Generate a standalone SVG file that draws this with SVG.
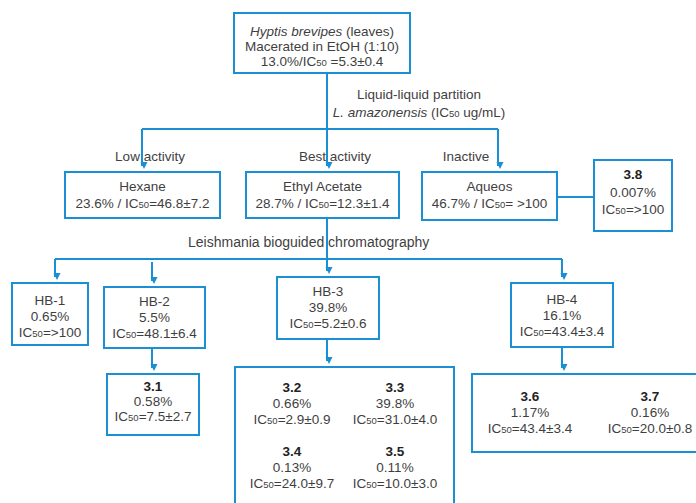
<svg xmlns="http://www.w3.org/2000/svg" width="696" height="503" viewBox="0 0 696 503">
<defs>
<marker id="ah" markerWidth="8" markerHeight="8" refX="4" refY="6" orient="auto-start-reverse" markerUnits="userSpaceOnUse" viewBox="0 0 8 8">
<path d="M0.5,0 L7.5,0 L4,7 Z" fill="#1a8fd3" transform="rotate(-90 4 4)"/>
</marker>
<style>
.box{fill:#fff;stroke:#1a8fd3;stroke-width:2}
.ln{fill:none;stroke:#1a8fd3;stroke-width:2}
text{font-family:"Liberation Sans",Arial,Helvetica,sans-serif;font-size:13.5px;fill:#3f3f3f;text-anchor:middle}
.b{font-weight:bold;fill:#222}
.s{font-size:9.5px}
.l{text-anchor:start;font-size:14px}
</style>
</defs>
<rect width="696" height="503" fill="#fff"/>
<g id="connectors">
<path class="ln" d="M327,73 V129 M142,129 H498"/>
<path class="ln" d="M142,129 V166" marker-end="url(#ah)"/>
<path class="ln" d="M327,129 V166" marker-end="url(#ah)"/>
<path class="ln" d="M498,129 V166" marker-end="url(#ah)"/>
<path class="ln" d="M557,197 H594"/>
<path class="ln" d="M327,218 V271" marker-end="url(#ah)"/>
<path class="ln" d="M55,259 H562"/>
<path class="ln" d="M55,259 V277" marker-end="url(#ah)"/>
<path class="ln" d="M152,262 V281" marker-end="url(#ah)"/>
<path class="ln" d="M562,259 V277" marker-end="url(#ah)"/>
<path class="ln" d="M152,348 V368" marker-end="url(#ah)"/>
<path class="ln" d="M327,339 V361" marker-end="url(#ah)"/>
<path class="ln" d="M562,347 V368" marker-end="url(#ah)"/>
</g>
<g id="labels">
<text x="419" y="99">Liquid-liquid partition</text>
<text x="419" y="117"><tspan font-style="italic">L. amazonensis</tspan> (IC<tspan class="s">50</tspan> ug/mL)</text>
<text x="150" y="161">Low activity</text>
<text x="335" y="161">Best activity</text>
<text x="466" y="161">Inactive</text>
<text class="l" x="188" y="247">Leishmania bioguided chromatography</text>
</g>
<g id="extract">
<rect class="box" x="234" y="13" width="176" height="60"/>
<text x="322" y="36"><tspan font-style="italic">Hyptis brevipes</tspan> (leaves)</text>
<text x="322" y="51">Macerated in EtOH (1:10)</text>
<text x="322" y="66">13.0%/IC<tspan class="s">50</tspan> =5.3±0.4</text>
</g>
<g id="hexane">
<rect class="box" x="65" y="172" width="155" height="46"/>
<text x="142.5" y="191">Hexane</text>
<text x="142.5" y="208">23.6% / IC<tspan class="s">50</tspan>=46.8±7.2</text>
</g>
<g id="ethyl">
<rect class="box" x="246" y="172" width="153" height="46"/>
<text x="322.5" y="191">Ethyl Acetate</text>
<text x="322.5" y="208">28.7% / IC<tspan class="s">50</tspan>=12.3±1.4</text>
</g>
<g id="aqueos">
<rect class="box" x="422" y="172" width="135" height="48"/>
<text x="489.5" y="191">Aqueos</text>
<text x="489.5" y="208">46.7% / IC<tspan class="s">50</tspan>= &gt;100</text>
</g>
<g id="f38">
<rect class="box" x="594" y="160" width="78" height="71"/>
<text class="b" x="633" y="179">3.8</text>
<text x="633" y="197">0.007%</text>
<text x="633" y="214">IC<tspan class="s">50</tspan>=&gt;100</text>
</g>
<g id="hb1">
<rect class="box" x="12" y="283" width="76" height="62"/>
<text x="50" y="305">HB-1</text>
<text x="50" y="321">0.65%</text>
<text x="50" y="337">IC<tspan class="s">50</tspan>=&gt;100</text>
</g>
<g id="hb2">
<rect class="box" x="104" y="287" width="101" height="61"/>
<text x="154.5" y="306">HB-2</text>
<text x="154.5" y="322">5.5%</text>
<text x="154.5" y="338">IC<tspan class="s">50</tspan>=48.1±6.4</text>
</g>
<g id="hb3">
<rect class="box" x="277" y="277" width="102" height="62"/>
<text x="328" y="296">HB-3</text>
<text x="328" y="312">39.8%</text>
<text x="328" y="328">IC<tspan class="s">50</tspan>=5.2±0.6</text>
</g>
<g id="hb4">
<rect class="box" x="511" y="283" width="102" height="64"/>
<text x="562" y="304">HB-4</text>
<text x="562" y="320">16.1%</text>
<text x="562" y="336">IC<tspan class="s">50</tspan>=43.4±3.4</text>
</g>
<g id="f31">
<rect class="box" x="107" y="374" width="92" height="61"/>
<text class="b" x="153" y="391">3.1</text>
<text x="153" y="406">0.58%</text>
<text x="153" y="421">IC<tspan class="s">50</tspan>=7.5±2.7</text>
</g>
<g id="f32-35">
<rect class="box" x="235" y="367" width="219" height="145"/>
<text class="b" x="292" y="392">3.2</text>
<text x="292" y="408">0.66%</text>
<text x="292" y="424">IC<tspan class="s">50</tspan>=2.9±0.9</text>
<text class="b" x="395" y="392">3.3</text>
<text x="395" y="408">39.8%</text>
<text x="395" y="424">IC<tspan class="s">50</tspan>=31.0±4.0</text>
<text class="b" x="292" y="456">3.4</text>
<text x="292" y="472">0.13%</text>
<text x="292" y="488">IC<tspan class="s">50</tspan>=24.0±9.7</text>
<text class="b" x="395" y="456">3.5</text>
<text x="395" y="472">0.11%</text>
<text x="395" y="488">IC<tspan class="s">50</tspan>=10.0±3.0</text>
</g>
<g id="f36-37">
<rect class="box" x="472" y="374" width="240" height="78"/>
<text class="b" x="530" y="401">3.6</text>
<text x="530" y="417">1.17%</text>
<text x="530" y="433">IC<tspan class="s">50</tspan>=43.4±3.4</text>
<text class="b" x="650" y="401">3.7</text>
<text x="650" y="417">0.16%</text>
<text x="650" y="433">IC<tspan class="s">50</tspan>=20.0±0.8</text>
</g>
</svg>
